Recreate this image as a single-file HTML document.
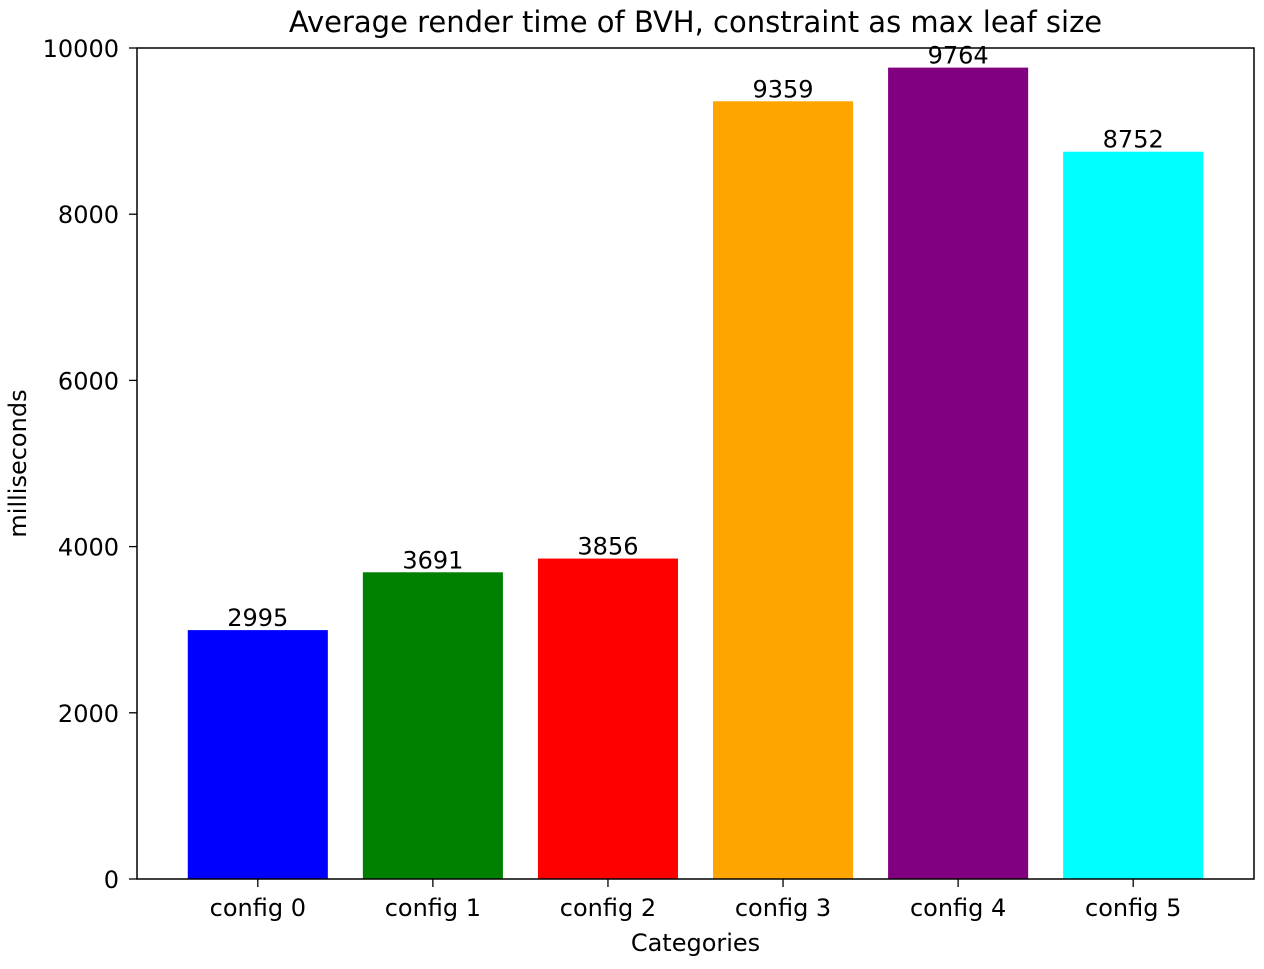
<!DOCTYPE html>
<html><head><meta charset="utf-8"><style>
html,body{margin:0;padding:0;background:#fff;}
svg text{font-family:"DejaVu Sans","Liberation Sans",sans-serif;fill:#000;}
</style></head><body>
<svg id="chart" width="1264" height="964" xmlns="http://www.w3.org/2000/svg"></svg>
<script>
const categories = ["config 0","config 1","config 2","config 3","config 4","config 5"];
const values = [2995,3691,3856,9359,9764,8752];
const colors = ["blue","green","red","orange","purple","cyan"];
const yTicks = [0,2000,4000,6000,8000,10000];

const L=137,R=1254,T=48,B=879;
const xmin=-0.69,xmax=categories.length-1+0.69;
const ymin=0,ymax=10000;
const xs=v=>L+(v-xmin)/(xmax-xmin)*(R-L);
const ys=v=>B-(v-ymin)/(ymax-ymin)*(B-T);
const svg=document.getElementById('chart');
const NS="http://www.w3.org/2000/svg";
function mk(tag,attrs,text){const e=document.createElementNS(NS,tag);for(const k in attrs)e.setAttribute(k,attrs[k]);if(text!==undefined)e.textContent=text;svg.appendChild(e);return e;}

categories.forEach((c,i)=>{
  const w=(xs(0.4)-xs(-0.4));
  const r=mk('rect',{x:xs(i)-w/2,y:ys(values[i]),width:w,height:ys(0)-ys(values[i]),fill:colors[i]});
  
  
  const t=mk('text',{x:xs(i),y:ys(values[i])-4,'text-anchor':'middle','font-size':24},String(values[i]));
  
  
  const tk=mk('line',{x1:xs(i),x2:xs(i),y1:B,y2:B+8,stroke:'#000','stroke-width':1.3});
  
  
  const tl=mk('text',{x:xs(i),y:B+37,'text-anchor':'middle','font-size':24},c);
  
  
});
yTicks.forEach(v=>{
  const tk=mk('line',{x1:L-8,x2:L,y1:ys(v),y2:ys(v),stroke:'#000','stroke-width':1.3});
  
  
  const tl=mk('text',{x:L-18,y:ys(v)+9,'text-anchor':'end','font-size':24},String(v));
  
  
});
const frame=mk('rect',{x:L,y:T,width:R-L,height:B-T,fill:'none',stroke:'#000','stroke-width':1.5});


const title=mk('text',{x:(L+R)/2,y:32,'text-anchor':'middle','font-size':29},'Average render time of BVH, constraint as max leaf size');


const xl=mk('text',{x:(L+R)/2,y:951,'text-anchor':'middle','font-size':24},'Categories');


const yl=mk('text',{x:0,y:0,'text-anchor':'middle','font-size':24,transform:'translate(26,'+((T+B)/2)+') rotate(-90)'},'milliseconds');


</script>
</body></html>
